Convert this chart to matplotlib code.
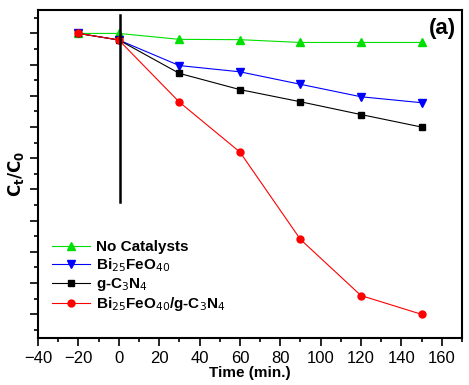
import numpy as np
import matplotlib.pyplot as plt
from matplotlib.ticker import MultipleLocator, NullFormatter

plt.rcParams['font.family'] = ['Liberation Sans', 'DejaVu Sans']

time = [-20, 0, 30, 60, 90, 120, 150]
no_cat = [1.0, 1.0, 0.981, 0.980, 0.971, 0.971, 0.971]
bfo = [1.0, 0.979, 0.897, 0.877, 0.837, 0.797, 0.778]
gcn = [1.0, 0.979, 0.872, 0.820, 0.781, 0.740, 0.700]
composite = [1.0, 0.979, 0.780, 0.620, 0.340, 0.160, 0.100]

labels = ['No Catalysts', r'Bi$_{25}$FeO$_{40}$', r'g-C$_3$N$_4$',
          r'Bi$_{25}$FeO$_{40}$/g-C$_3$N$_4$']

fig = plt.figure(figsize=(4.69, 3.85), dpi=100)
ax = fig.add_axes([0.081, 0.122, 0.904, 0.852])

ax.plot(time, no_cat, color='#00e000', marker='^', ms=5.5, lw=0.8, label=labels[0])
ax.plot(time, bfo, color='#0000ff', marker='v', ms=5.5, lw=0.8, label=labels[1])
ax.plot(time, gcn, color='black', marker='s', ms=4.5, lw=0.8, label=labels[2])
ax.plot(time, composite, color='red', marker='o', ms=5, lw=0.8, label=labels[3])

# light on
ax.plot([0.6, 0.6], [0.46, 1.059], color='black', lw=1.8)

ax.set_xlim(-40, 170)
ax.set_ylim(0.024, 1.075)
ax.xaxis.set_major_locator(MultipleLocator(20))
ax.xaxis.set_minor_locator(MultipleLocator(10))
ax.yaxis.set_major_locator(MultipleLocator(0.1))
ax.yaxis.set_minor_locator(MultipleLocator(0.05))
ax.yaxis.set_major_formatter(NullFormatter())
ax.tick_params(which='both', direction='out', top=False, right=False, width=1.2)
ax.tick_params(which='major', length=6, labelsize=12)
ax.tick_params(which='minor', length=3)
for s in ax.spines.values():
    s.set_linewidth(1.5)

ax.set_xlabel('Time (min.)', fontsize=11, fontweight='bold', labelpad=0)
ax.set_ylabel(r'$\mathbf{C_t/C_0}$', fontsize=12, labelpad=-1)

ax.text(0.985, 0.975, '(a)', transform=ax.transAxes, ha='right', va='top',
        fontsize=16, fontweight='bold')

leg = ax.legend(loc='lower left', bbox_to_anchor=(0.0, 0.033), frameon=False,
                handlelength=2.5, handletextpad=0.4, labelspacing=0.15,
                prop={'weight': 'bold', 'size': 11})

fig.savefig('out.png', dpi=100)
